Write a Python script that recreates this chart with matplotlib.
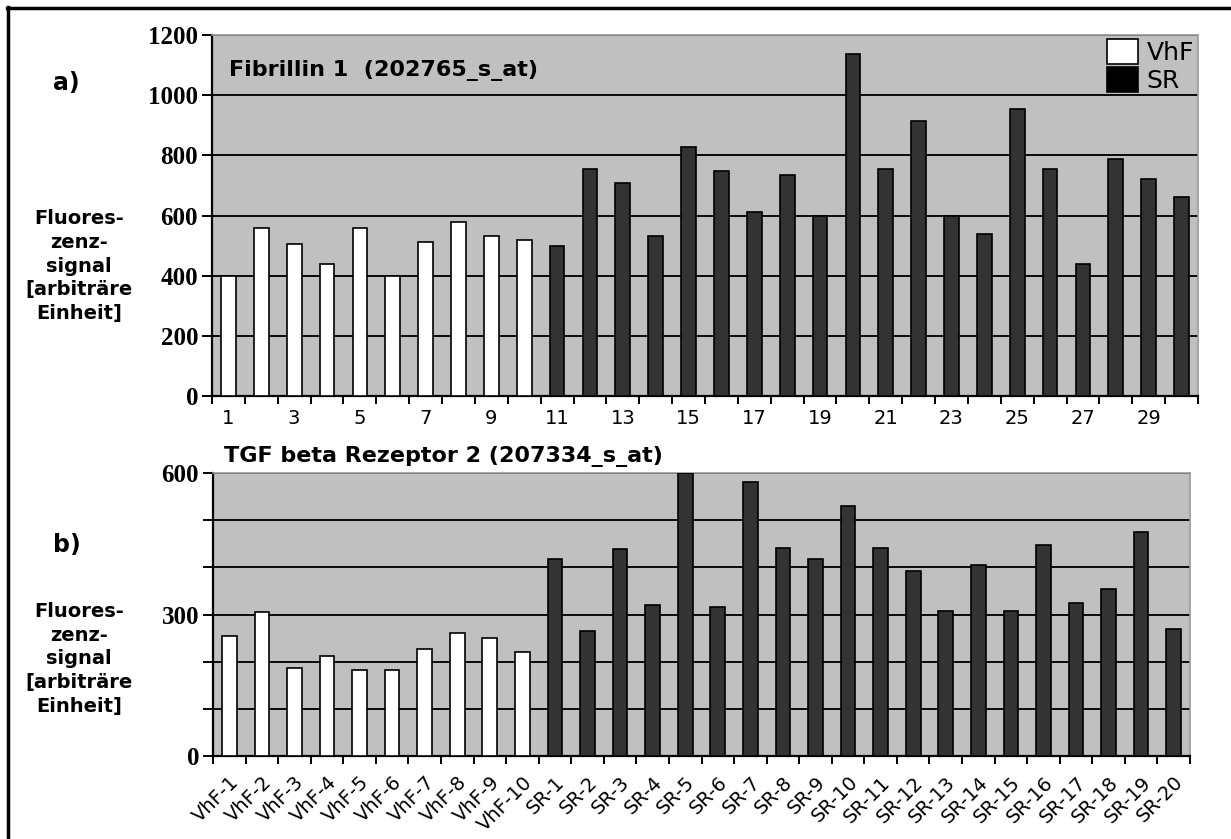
import matplotlib
matplotlib.use("Agg")
import matplotlib.pyplot as plt
import numpy as np
from matplotlib.lines import Line2D
from matplotlib.patches import Patch
from matplotlib.font_manager import FontProperties

# --- data -------------------------------------------------------------
fbn1_vhf = [400, 560, 505, 440, 560, 400, 512, 580, 533, 520]
fbn1_sr = [500, 753, 707, 533, 827, 747, 613, 733, 598, 1136,
           753, 913, 598, 540, 953, 753, 440, 787, 720, 660]

tgfbr2_vhf = [255, 306, 187, 213, 183, 183, 226, 260, 251, 221]
tgfbr2_sr = [417, 265, 439, 320, 600, 316, 580, 440, 418, 529,
             440, 393, 308, 406, 308, 448, 325, 355, 474, 270]

sample_labels = ["VhF-1", "VhF-2", "VhF-3", "VhF-4", "VhF-5", "VhF-6",
                 "VhF-7", "VhF-8", "VhF-9", "VhF-10",
                 "SR-1", "SR-2", "SR-3", "SR-4", "SR-5", "SR-6", "SR-7",
                 "SR-8", "SR-9", "SR-10", "SR-11", "SR-12", "SR-13",
                 "SR-14", "SR-15", "SR-16", "SR-17", "SR-18", "SR-19",
                 "SR-20"]

title_a = "Fibrillin 1  (202765_s_at)"
title_b = "TGF beta Rezeptor 2 (207334_s_at)"
ylabel = "Fluores-\nzenz-\nsignal\n[arbitr\u00e4re\nEinheit]"

# --- style ------------------------------------------------------------
W, H = 1231, 839
PLOT_BG = "#c0c0c0"
DARK = "#333333"
BAR_W = 0.45
TICK_FONT = FontProperties(family="Liberation Serif", weight="bold", size=18)
CAT_FONT = dict(family="DejaVu Sans", size=14)

fig = plt.figure(figsize=(W / 100, H / 100), dpi=100)
fig.patch.set_facecolor("white")


def px_axes(left, top, right, bottom):
    return fig.add_axes([left / W, 1 - bottom / H, (right - left) / W,
                         (bottom - top) / H])


def draw_panel(ax, vhf, sr, ymax, ystep):
    n_v, n_s = len(vhf), len(sr)
    n = n_v + n_s
    x_v = np.arange(1, n_v + 1)
    x_s = np.arange(n_v + 1, n + 1)
    ax.set_facecolor(PLOT_BG)
    ax.bar(x_v, vhf, width=BAR_W, color="white", edgecolor="black",
           linewidth=1.2, zorder=3)
    ax.bar(x_s, sr, width=BAR_W, color=DARK, edgecolor="black",
           linewidth=1.2, zorder=3)
    ax.set_xlim(0.5, n + 0.5)
    ax.set_ylim(0, ymax)
    ax.set_yticks(np.arange(0, ymax + 1, ystep))
    ax.yaxis.grid(True, color="#0a0a0a", linewidth=1.4)
    ax.set_axisbelow(True)
    for side in ("left", "bottom"):
        ax.spines[side].set_color("black")
        ax.spines[side].set_linewidth(1.6)
    for side in ("top", "right"):
        ax.spines[side].set_color("#9a9a9a")
        ax.spines[side].set_linewidth(1.2)
    ax.tick_params(axis="y", direction="out", length=7, width=1.4,
                   pad=3, colors="black")
    # category boundaries carry the tick marks
    ax.set_xticks(np.arange(0.5, n + 1), minor=True)
    ax.tick_params(axis="x", which="minor", direction="out", length=6,
                   width=1.4, colors="black")
    ax.tick_params(axis="x", which="major", length=0)
    return n


# --- panel a ------------------------------------------------------------
ax1 = px_axes(212, 35, 1198, 396)
n1 = draw_panel(ax1, fbn1_vhf, fbn1_sr, 1200, 200)
for lab in ax1.get_yticklabels():
    lab.set_fontproperties(TICK_FONT)
ax1.set_xticks(np.arange(1, n1 + 1, 2))
ax1.set_xticklabels([str(i) for i in range(1, n1 + 1, 2)], **CAT_FONT)
ax1.tick_params(axis="x", which="major", pad=9)
ax1.text(0.017, 0.903, title_a, transform=ax1.transAxes, ha="left",
         va="center", family="DejaVu Sans", weight="bold", size=16)
handles = [Patch(facecolor="white", edgecolor="black", linewidth=1.2),
           Patch(facecolor="black", edgecolor="black", linewidth=1.2)]
ax1.legend(handles, ["VhF", "SR"], loc="upper right", frameon=False,
           prop=dict(family="DejaVu Sans", size=18), handlelength=1.25,
           handleheight=1.15, handletextpad=0.35, labelspacing=0.1,
           borderaxespad=0.05, borderpad=0.1)

# --- panel b ------------------------------------------------------------
ax2 = px_axes(213, 473, 1190, 756)
n2 = draw_panel(ax2, tgfbr2_vhf, tgfbr2_sr, 600, 100)
ax2.set_yticklabels(["0", "", "", "300", "", "", "600"])
for lab in ax2.get_yticklabels():
    lab.set_fontproperties(TICK_FONT)
ax2.set_xticks(np.arange(1, n2 + 1))
ax2.set_xticklabels(sample_labels, rotation=45, ha="right", va="top",
                    rotation_mode="anchor", **CAT_FONT)
ax2.tick_params(axis="x", which="major", pad=12)
ax2.text(0.011, 1.057, title_b, transform=ax2.transAxes, ha="left",
         va="center", family="DejaVu Sans", weight="bold", size=16)

# --- panel captions and axis descriptions -----------------------------
fig.text(53 / W, 1 - 83 / H, "a)", ha="left", va="center",
         family="DejaVu Sans", weight="bold", size=17)
fig.text(53 / W, 1 - 545 / H, "b)", ha="left", va="center",
         family="DejaVu Sans", weight="bold", size=17)
for yc in (266, 659):
    fig.text(79 / W, 1 - yc / H, ylabel, ha="center", va="center",
             multialignment="center", family="DejaVu Sans",
             weight="bold", size=14, linespacing=1.32)

# outer frame (top and left edges)
fig.add_artist(Line2D([7 / W, 1.0], [1 - 8 / H, 1 - 8 / H],
                      transform=fig.transFigure, color="black", lw=2.5))
fig.add_artist(Line2D([8 / W, 8 / W], [0.0, 1 - 7 / H],
                      transform=fig.transFigure, color="black", lw=2.5))

fig.savefig("out.png", dpi=100, facecolor="white")
